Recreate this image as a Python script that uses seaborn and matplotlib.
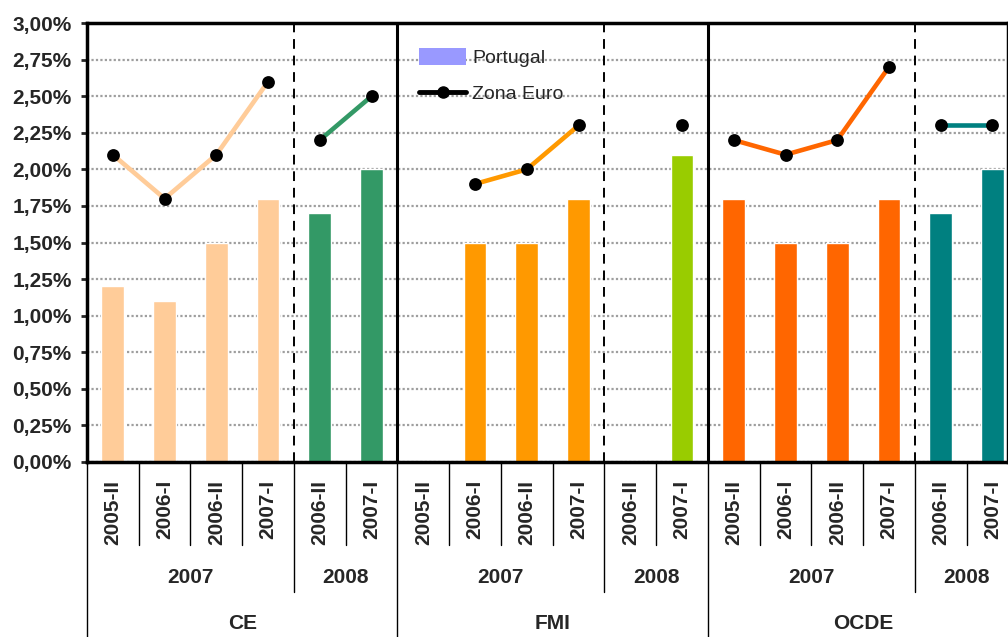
import numpy as np
import pandas as pd
import matplotlib
matplotlib.use("Agg")
import matplotlib.pyplot as plt
from matplotlib.patches import Patch
from matplotlib.lines import Line2D
import seaborn as sns

# ---------------- data ----------------
institutions = ["CE", "FMI", "OCDE"]
target_years = ["2007", "2007", "2007", "2007", "2008", "2008"]
forecast_dates = ["2005-II", "2006-I", "2006-II", "2007-I", "2006-II", "2007-I"]

portugal_ce = [1.2, 1.1, 1.5, 1.8, 1.7, 2.0]
portugal_fmi = [np.nan, 1.5, 1.5, 1.8, np.nan, 2.1]
portugal_ocde = [1.8, 1.5, 1.5, 1.8, 1.7, 2.0]

euro_ce = [2.1, 1.8, 2.1, 2.6, 2.2, 2.5]
euro_fmi = [np.nan, 1.9, 2.0, 2.3, np.nan, 2.3]
euro_ocde = [2.2, 2.1, 2.2, 2.7, 2.3, 2.3]

group_colors = {
    "CE 2007": "#FFCC99", "CE 2008": "#339966",
    "FMI 2007": "#FF9900", "FMI 2008": "#99CC00",
    "OCDE 2007": "#FF6600", "OCDE 2008": "#008080",
}
legend_portugal_color = "#9999FF"

# ---------------- table ----------------
rows = []
pt_all = [portugal_ce, portugal_fmi, portugal_ocde]
eu_all = [euro_ce, euro_fmi, euro_ocde]
pos = 0
for inst, pts, eus in zip(institutions, pt_all, eu_all):
    for yr, lab, p, e in zip(target_years, forecast_dates, pts, eus):
        rows.append(dict(pos=pos, inst=inst, year=yr, label=lab,
                         portugal=p, euro=e, group=f"{inst} {yr}"))
        pos += 1
df = pd.DataFrame(rows)

# ---------------- figure ----------------
sns.set_style("white")
plt.rcParams["font.family"] = ["Liberation Sans", "DejaVu Sans"]

fig = plt.figure(figsize=(10.08, 6.37), dpi=100)
ax = fig.add_axes([87 / 1008, (637 - 462) / 637, 921 / 1008, 439 / 637])

sns.barplot(data=df.dropna(subset=["portugal"]), x="pos", y="portugal", hue="group",
            palette=group_colors, native_scale=True, dodge=False, width=0.44,
            saturation=1, errorbar=None, legend=False, ax=ax, zorder=2)

for g, c in group_colors.items():
    sub = df[(df.group == g)].dropna(subset=["euro"])
    if len(sub) >= 2:
        sns.lineplot(x=sub["pos"].to_numpy(), y=sub["euro"].to_numpy(), color=c,
                     lw=3.3, ax=ax, zorder=3, errorbar=None)
sns.scatterplot(data=df.dropna(subset=["euro"]), x="pos", y="euro", color="black",
                s=85, linewidth=0, ax=ax, zorder=4, legend=False)

ax.set_xlim(-0.5, 17.30)
ax.set_ylim(0, 3.0)

yt = np.arange(0, 3.001, 0.25)
ax.set_yticks(yt)
ax.set_yticklabels([f"{v:.2f}%".replace(".", ",") for v in yt],
                   fontsize=15, fontweight="bold")
ax.set_xticks(df["pos"])
ax.set_xticklabels(df["label"], rotation=90, fontsize=15, fontweight="bold")
ax.tick_params(axis="x", length=0, pad=13)
ax.tick_params(axis="y", length=4, width=2, pad=7, left=True, direction="out")
ax.set_xlabel("")
ax.set_ylabel("")

ax.set_axisbelow(True)
ax.yaxis.grid(True, color="#9E9E9E", linestyle=(0, (1, 1)), linewidth=1.6)
ax.xaxis.grid(False)

for side in ["left", "bottom", "top", "right"]:
    ax.spines[side].set_linewidth(2.5)
    ax.spines[side].set_color("black")

# vertical separators inside the plot
for k in range(1, 3):
    ax.axvline(6 * k - 0.5, color="black", lw=2.2, zorder=5)
for k in range(3):
    ax.axvline(6 * k + 3.5, color="black", lw=1.4, ls=(0, (5, 3.5)), zorder=5)

# separators in label area
tr = ax.get_xaxis_transform()
for k in range(0, 19):
    xb = k - 0.5
    if k % 6 == 0:
        y1 = -0.399
    elif k % 6 == 4:
        y1 = -0.296
    else:
        y1 = -0.189
    ax.plot([xb, xb], [0, y1], color="black", lw=1.0, transform=tr, clip_on=False)

# year labels and institution labels
for inst in institutions:
    sub = df[df.inst == inst]
    for yr in ["2007", "2008"]:
        ps = sub[sub.year == yr]["pos"]
        ax.text(ps.mean(), -0.262, yr, transform=tr, ha="center", va="center",
                fontsize=15, fontweight="bold")
    ax.text(sub["pos"].mean(), -0.367, inst, transform=tr, ha="center", va="center",
            fontsize=15, fontweight="bold")

handles = [Patch(facecolor=legend_portugal_color, edgecolor="none", label="Portugal"),
           Line2D([0], [0], color="black", lw=3.5, marker="o", markersize=8,
                  label="Zona Euro")]
ax.legend(handles=handles, loc="upper left", bbox_to_anchor=(0.342, 0.983),
          frameon=False, fontsize=14, handlelength=2.4, handleheight=1.0,
          labelspacing=0.85, handletextpad=0.3)

fig.savefig("out.png", dpi=100)
